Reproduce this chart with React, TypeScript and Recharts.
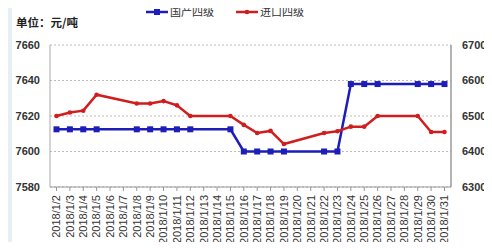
import { LineChart, Line, XAxis, YAxis, CartesianGrid } from "recharts"

const dates = [
  "2018/1/2", "2018/1/3", "2018/1/4", "2018/1/5", "2018/1/6", "2018/1/7",
  "2018/1/8", "2018/1/9", "2018/1/10", "2018/1/11", "2018/1/12", "2018/1/13",
  "2018/1/14", "2018/1/15", "2018/1/16", "2018/1/17", "2018/1/18", "2018/1/19",
  "2018/1/20", "2018/1/21", "2018/1/22", "2018/1/23", "2018/1/24", "2018/1/25",
  "2018/1/26", "2018/1/27", "2018/1/28", "2018/1/29", "2018/1/30", "2018/1/31",
]

// 国产四级, left axis (weekends have no quote)
const domestic = [
  7612.5, 7612.5, 7612.5, 7612.5, null, null,
  7612.5, 7612.5, 7612.5, 7612.5, 7612.5, null,
  null, 7612.5, 7600, 7600, 7600, 7600,
  null, null, 7600, 7600, 7638, 7638,
  7638, null, null, 7638, 7638, 7638,
]

// 进口四级, right axis
const imported = [
  6500, 6510, 6515, 6560, null, null,
  6535, 6535, 6542, 6530, 6500, null,
  null, 6500, 6475, 6452, 6458, 6421,
  null, null, 6452, 6457, 6470, 6470,
  6500, null, null, 6500, 6455, 6455,
]

const leftTicks = [7580, 7600, 7620, 7640, 7660]
const rightTicks = [6300, 6400, 6500, 6600, 6700]

const data = dates.map((d, i) => ({ date: d, domestic: domestic[i], imported: imported[i] }))

const BLUE = "#1d1db8"
const RED = "#d01e1e"
const FONT = "'Liberation Sans', Arial, sans-serif"
const CJK = "'Noto Sans CJK SC', sans-serif"

function DateTick(props: any) {
  const { x, y, payload } = props
  return (
    <text
      x={x}
      y={y + 2}
      dy="0.35em"
      transform={`rotate(-90, ${x}, ${y + 2})`}
      textAnchor="end"
      fontSize={11}
      fontFamily={FONT}
      fill="#333"
    >
      {payload.value}
    </text>
  )
}

function SquareDot(props: any) {
  const { cx, cy, value } = props
  if (value == null || cx == null) return null
  return <rect x={cx - 3} y={cy - 3} width={6} height={6} fill={BLUE} />
}

function SmallDot(props: any) {
  const { cx, cy, value } = props
  if (value == null || cx == null) return null
  return <circle cx={cx} cy={cy} r={2.3} fill={RED} />
}

function LegendBox() {
  return (
    <svg width={492} height={24} style={{ position: "absolute", left: 0, top: 0, zIndex: 2 }}>
      <line x1={146} y1={12} x2={168} y2={12} stroke={BLUE} strokeWidth={2.5} />
      <rect x={154} y={9} width={6} height={6} fill={BLUE} />
      <text x={170} y={16} fontSize={11} fontFamily={CJK} fill="#333">国产四级</text>
      <line x1={236} y1={12} x2={258} y2={12} stroke={RED} strokeWidth={2.5} />
      <circle cx={247} cy={12} r={2.3} fill={RED} />
      <text x={260} y={16} fontSize={11} fontFamily={CJK} fill="#333">进口四级</text>
    </svg>
  )
}

export default function App() {
  return (
    <div style={{ position: "relative", width: 492, height: 250, margin: -8, background: "#fff", overflow: "hidden" }}>
      <div style={{ position: "absolute", left: 0, top: 0, width: 12, height: 250, background: "#e8eef8" }} />
      <div style={{ position: "absolute", left: 487, top: 0, width: 5, height: 250, background: "#eef2f9" }} />
      <div
        style={{
          position: "absolute", left: 16, top: 14, fontSize: 11.5, fontWeight: 700, zIndex: 2,
          fontFamily: CJK, color: "#222", whiteSpace: "nowrap", lineHeight: "16px",
        }}
      >
        单位：元/吨
      </div>
      <LegendBox />
      <LineChart width={492} height={250} data={data} margin={{ top: 45, right: 0, bottom: 0, left: 0 }}>
        <CartesianGrid vertical={false} stroke="#bbb" strokeDasharray="2 2" yAxisId="left" />
        <XAxis
          dataKey="date"
          interval={0}
          height={63}
          padding={{ left: 6.5, right: 6.5 }}
          stroke="#999"
          tickLine={{ stroke: "#999" }}
          tickSize={4}
          tick={<DateTick />}
        />
        <YAxis
          yAxisId="left"
          width={50}
          domain={[7580, 7660]}
          ticks={leftTicks}
          stroke="#aaa"
          tickLine={false}
          tickSize={6}
          tickMargin={4}
          tick={{ fontSize: 11, fill: "#333", fontFamily: FONT, fontWeight: 600 }}
        />
        <YAxis
          yAxisId="right"
          orientation="right"
          width={41}
          domain={[6300, 6700]}
          ticks={rightTicks}
          stroke="#999"
          strokeWidth={1.5}
          tickLine={false}
          tickSize={5}
          tickMargin={6}
          tick={{ fontSize: 11, fill: "#333", fontFamily: FONT, fontWeight: 600, textAnchor: "start" }}
        />
        <Line
          yAxisId="left"
          dataKey="domestic"
          stroke={BLUE}
          strokeWidth={2.5}
          connectNulls
          dot={<SquareDot />}
          isAnimationActive={false}
        />
        <Line
          yAxisId="right"
          dataKey="imported"
          stroke={RED}
          strokeWidth={2.5}
          connectNulls
          dot={<SmallDot />}
          isAnimationActive={false}
        />
      </LineChart>
    </div>
  )
}
